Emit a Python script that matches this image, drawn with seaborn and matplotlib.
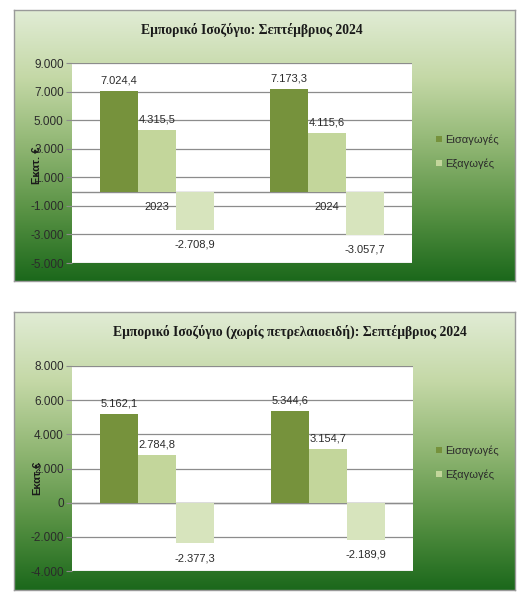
import numpy as np
import pandas as pd
import matplotlib
matplotlib.use("Agg")
import matplotlib.pyplot as plt
from matplotlib.colors import LinearSegmentedColormap
from matplotlib.patches import Patch
import seaborn as sns

# -------------------
# Data
# -------------------
years = ["2023", "2024"]
series_names = ["Εισαγωγές", "Εξαγωγές", "Ισοζύγιο"]

imports_all = [7024.4, 7173.3]
exports_all = [4315.5, 4115.6]
balance_all = [-2708.9, -3057.7]

imports_nooil = [5162.1, 5344.6]
exports_nooil = [2784.8, 3154.7]
balance_nooil = [-2377.3, -2189.9]

titles = ["Εμπορικό Ισοζύγιο: Σεπτέμβριος 2024",
          "Εμπορικό Ισοζύγιο (χωρίς πετρελαιοειδή): Σεπτέμβριος 2024"]
ylabels = ["Εκατ. €", "Εκατ.€"]

bar_colors = ["#76923c", "#c3d69b", "#d7e4bd"]
W, H = 525, 600


def gr(v, dec=0):
    """Greek number format: 7.024,4"""
    s = f"{v:,.{dec}f}"
    return s.replace(",", "X").replace(".", ",").replace("X", ".")


def px(x0, y0, x1, y1):
    return [x0 / W, 1 - y1 / H, (x1 - x0) / W, (y1 - y0) / H]


def make_df(imp, exp, bal):
    rows = []
    for name, vals in zip(series_names, [imp, exp, bal]):
        for y, v in zip(years, vals):
            rows.append({"year": y, "series": name, "value": v})
    return pd.DataFrame(rows)


sns.set_theme(style="white")
plt.rcParams["font.family"] = ["Liberation Sans", "DejaVu Sans"]

fig = plt.figure(figsize=(W / 100, H / 100), dpi=100)
fig.patch.set_facecolor("white")

grad = LinearSegmentedColormap.from_list(
    "grad", ["#e1ecd5", "#c4d8a6", "#90b673", "#579143", "#1b681b"])

panels = [
    dict(panel=(14, 10, 515, 281), plot=(72, 63, 412, 263),
         df=make_df(imports_all, exports_all, balance_all),
         ylim=(-5000, 9000), title_xy=(252, 30), legend_y=(139, 164),
         ylab_y=165, xlabels=True),
    dict(panel=(14, 312, 515, 590), plot=(72, 366, 413, 571),
         df=make_df(imports_nooil, exports_nooil, balance_nooil),
         ylim=(-4000, 8000), title_xy=(290, 332), legend_y=(450, 475),
         ylab_y=478, xlabels=False),
]

for k, p in enumerate(panels):
    # gradient panel background
    bg = fig.add_axes(px(*p["panel"]), zorder=0)
    bg.imshow(np.linspace(0, 1, 256).reshape(-1, 1), aspect="auto",
              cmap=grad, extent=(0, 1, 0, 1))
    bg.set_xticks([])
    bg.set_yticks([])
    for s in bg.spines.values():
        s.set_color("#9a9a9a")
        s.set_linewidth(1.0)

    ax = fig.add_axes(px(*p["plot"]), zorder=1)
    ax.set_facecolor("white")
    sns.barplot(data=p["df"], x="year", y="value", hue="series",
                hue_order=series_names, palette=bar_colors, width=0.667,
                gap=0, saturation=1, linewidth=0, legend=False, ax=ax,
                zorder=3)

    lo, hi = p["ylim"]
    ax.set_ylim(lo, hi)
    ax.set_xlim(-0.5, 1.5)
    ticks = np.arange(lo, hi + 1, 2000)
    ax.set_yticks(ticks)
    ax.set_yticklabels([gr(t) for t in ticks], fontsize=8.5, color="#2b2b2b")
    ax.tick_params(axis="y", length=4, width=0.8, color="#8c8c8c", pad=2, left=True)
    ax.set_xticks([])
    ax.set_xlabel("")
    ax.set_ylabel("")
    ax.grid(axis="y", color="#8c8c8c", linewidth=0.9, zorder=0)
    ax.set_axisbelow(True)
    ax.axhline(0, color="#8c8c8c", linewidth=1.0, zorder=2)
    for s in ax.spines.values():
        s.set_visible(False)

    # data labels
    for cont in ax.containers:
        for bar in cont:
            v = bar.get_height()
            xc = bar.get_x() + bar.get_width() / 2
            off = 4 if v >= 0 else -7
            ax.annotate(gr(v, 1), (xc, v), xytext=(0, off),
                        textcoords="offset points", ha="center",
                        va="bottom" if v >= 0 else "top",
                        fontsize=8, color="#2b2b2b", zorder=5)

    if p["xlabels"]:
        for i, y in enumerate(years):
            ax.annotate(y, (i, 0), xytext=(0, -11), textcoords="offset points",
                        ha="center", va="center", fontsize=8, color="#2b2b2b",
                        zorder=1)

    tx, ty = p["title_xy"]
    fig.text(tx / W, 1 - ty / H, titles[k], ha="center", va="center",
             fontsize=9.8, fontweight="bold", color="#1a1a1a",
             family=["Liberation Serif", "DejaVu Serif"], zorder=5)

    fig.text(37 / W, 1 - p["ylab_y"] / H, ylabels[k], rotation=90,
             ha="center", va="center", fontsize=8, fontweight="bold",
             color="#1a1a1a", zorder=5)

    handles = [Patch(facecolor=c, edgecolor="none") for c in bar_colors[:2]]
    ly0, ly1 = p["legend_y"]
    leg = ax.legend(handles, series_names[:2], loc="center left",
                    bbox_to_anchor=(436 / W, 1 - (ly0 + ly1) / 2 / H),
                    bbox_transform=fig.transFigure, frameon=False,
                    borderaxespad=0, borderpad=0,
                    fontsize=8, handlelength=0.5, handleheight=0.5,
                    handletextpad=0.3, labelspacing=1.2)
    for t in leg.get_texts():
        t.set_color("#2b2b2b")

fig.savefig("out.png", dpi=100)
